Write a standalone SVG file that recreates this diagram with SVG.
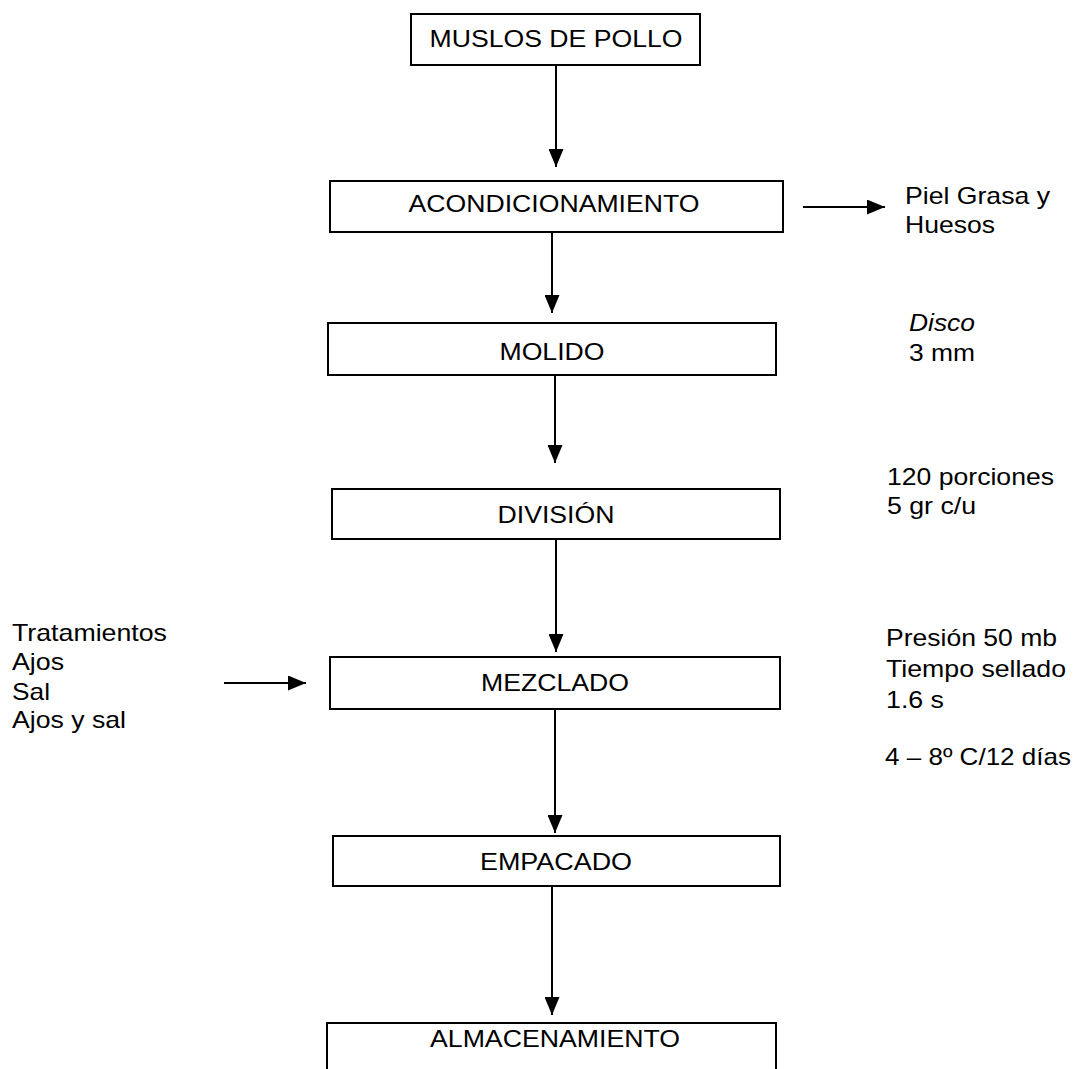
<svg xmlns="http://www.w3.org/2000/svg" width="1075" height="1069" viewBox="0 0 1075 1069">
<style>
  .box { fill: #fff; stroke: #000; stroke-width: 2; }
  .lbl { font-family: "Liberation Sans", Arial, sans-serif; font-size: 24px; fill: #000; }
  .c { text-anchor: middle; }
  .conn { stroke: #000; stroke-width: 2; fill: none; marker-end: url(#ah); }
</style>
<defs>
  <marker id="ah" markerUnits="userSpaceOnUse" markerWidth="18" markerHeight="15" refX="18" refY="7.5" orient="auto">
    <path d="M0,0 L18,7.5 L0,15 z" fill="#000"/>
  </marker>
</defs>
<rect width="1075" height="1069" fill="#fff"/>
<g id="connectors">
  <line class="conn" x1="556" y1="65" x2="556" y2="167"/>
  <line class="conn" x1="552" y1="232" x2="552" y2="313"/>
  <line class="conn" x1="555" y1="375" x2="555" y2="463"/>
  <line class="conn" x1="556" y1="539" x2="556" y2="652"/>
  <line class="conn" x1="555" y1="709" x2="555" y2="833"/>
  <line class="conn" x1="552" y1="886" x2="552" y2="1015"/>
  <line class="conn" x1="803" y1="207" x2="885" y2="207"/>
  <line class="conn" x1="224" y1="683" x2="306" y2="683"/>
</g>
<g id="n1"><rect class="box" x="411" y="14" width="289" height="51"/><text class="lbl c" x="556" y="47" textLength="253" lengthAdjust="spacingAndGlyphs">MUSLOS DE POLLO</text></g>
<g id="n2"><rect class="box" x="330" y="181" width="453" height="51"/><text class="lbl c" x="554" y="212" textLength="291" lengthAdjust="spacingAndGlyphs">ACONDICIONAMIENTO</text></g>
<g id="n3"><rect class="box" x="328" y="323" width="448" height="52"/><text class="lbl c" x="552" y="360" textLength="105" lengthAdjust="spacingAndGlyphs">MOLIDO</text></g>
<g id="n4"><rect class="box" x="332" y="489" width="448" height="50"/><text class="lbl c" x="556" y="523" textLength="117" lengthAdjust="spacingAndGlyphs">DIVISIÓN</text></g>
<g id="n5"><rect class="box" x="330" y="657" width="450" height="52"/><text class="lbl c" x="555" y="691" textLength="148" lengthAdjust="spacingAndGlyphs">MEZCLADO</text></g>
<g id="n6"><rect class="box" x="333" y="836" width="447" height="50"/><text class="lbl c" x="556" y="870" textLength="152" lengthAdjust="spacingAndGlyphs">EMPACADO</text></g>
<g id="n7"><rect class="box" x="327" y="1023" width="449" height="60"/><text class="lbl c" x="555" y="1047" textLength="250" lengthAdjust="spacingAndGlyphs">ALMACENAMIENTO</text></g>
<g id="notes">
  <text class="lbl" x="905" y="204" textLength="145" lengthAdjust="spacingAndGlyphs">Piel Grasa y</text>
  <text class="lbl" x="905" y="233" textLength="90" lengthAdjust="spacingAndGlyphs">Huesos</text>
  <text class="lbl" x="909" y="331" font-style="italic" textLength="66" lengthAdjust="spacingAndGlyphs">Disco</text>
  <text class="lbl" x="909" y="361" textLength="66" lengthAdjust="spacingAndGlyphs">3 mm</text>
  <text class="lbl" x="887" y="485" textLength="167" lengthAdjust="spacingAndGlyphs">120 porciones</text>
  <text class="lbl" x="887" y="514" textLength="89" lengthAdjust="spacingAndGlyphs">5 gr c/u</text>
  <text class="lbl" x="886" y="646" textLength="171" lengthAdjust="spacingAndGlyphs">Presión 50 mb</text>
  <text class="lbl" x="886" y="677" textLength="180" lengthAdjust="spacingAndGlyphs">Tiempo sellado</text>
  <text class="lbl" x="886" y="708" textLength="58" lengthAdjust="spacingAndGlyphs">1.6 s</text>
  <text class="lbl" x="885" y="765" textLength="186" lengthAdjust="spacingAndGlyphs">4 – 8º C/12 días</text>
  <text class="lbl" x="12" y="641" textLength="155" lengthAdjust="spacingAndGlyphs">Tratamientos</text>
  <text class="lbl" x="12" y="670" textLength="52" lengthAdjust="spacingAndGlyphs">Ajos</text>
  <text class="lbl" x="12" y="700" textLength="38" lengthAdjust="spacingAndGlyphs">Sal</text>
  <text class="lbl" x="12" y="728" textLength="114" lengthAdjust="spacingAndGlyphs">Ajos y sal</text>
</g>
</svg>
